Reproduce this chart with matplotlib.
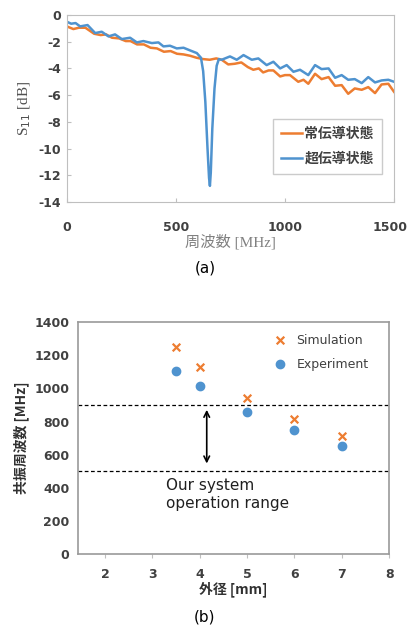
import matplotlib
matplotlib.use('Agg')
from matplotlib import pyplot as plt
from matplotlib.transforms import ScaledTranslation

plt.rcParams['font.family'] = ['DejaVu Sans', 'Noto Sans CJK JP']
plt.rcParams['axes.unicode_minus'] = False

# (a) S11 vs frequency
freq_normal = [0, 30, 55, 85, 125, 155, 180, 207, 240, 270, 292, 322, 353, 384, 413, 445,
               476, 505, 535, 565, 595, 625, 655, 685, 710, 740, 770, 800, 830, 855, 880,
               900, 925, 947, 978, 1000, 1023, 1061, 1085, 1107, 1138, 1168, 1200, 1230,
               1260, 1290, 1320, 1352, 1382, 1413, 1443, 1474, 1500]
s11_normal = [-0.85, -1.05, -0.95, -0.95, -1.4, -1.5, -1.45, -1.7, -1.75, -1.95, -1.95, -2.2,
              -2.2, -2.45, -2.5, -2.75, -2.7, -2.9, -2.95, -3.05, -3.2, -3.3, -3.35, -3.25,
              -3.35, -3.7, -3.65, -3.55, -3.9, -4.1, -4.0, -4.3, -4.15, -4.15, -4.6, -4.5,
              -4.5, -5.0, -4.85, -5.15, -4.4, -4.8, -4.65, -5.3, -5.25, -5.9, -5.5, -5.6,
              -5.4, -5.85, -5.2, -5.15, -5.75]
freq_super = [0, 20, 40, 61, 95, 130, 160, 191, 221, 252, 290, 321, 351, 390, 420, 443, 473,
              504, 535, 565, 596, 615, 625, 635, 645, 652, 656, 660, 667, 677, 687, 697, 710,
              748, 779, 810, 848, 878, 916, 947, 978, 1008, 1039, 1069, 1107, 1138, 1168,
              1200, 1230, 1260, 1290, 1320, 1352, 1382, 1413, 1443, 1474, 1500]
s11_super = [-0.5, -0.65, -0.6, -0.85, -0.75, -1.35, -1.25, -1.6, -1.45, -1.8, -1.7, -2.05,
             -1.95, -2.1, -2.05, -2.35, -2.3, -2.5, -2.45, -2.65, -2.85, -3.2, -4.2, -6.5,
             -10.0, -12.2, -12.8, -11.8, -8.5, -5.5, -3.8, -3.3, -3.35, -3.1, -3.35, -3.0,
             -3.35, -3.25, -3.75, -3.5, -4.0, -3.75, -4.25, -4.1, -4.5, -3.75, -4.05, -4.0,
             -4.7, -4.5, -4.85, -4.8, -5.1, -4.65, -5.05, -4.9, -4.85, -5.0]

# (b) resonance frequency vs outer diameter
diam = [3.5, 4, 5, 6, 7]
f_sim = [1248, 1132, 943, 813, 710]
f_exp = [1108, 1014, 858, 750, 654]
range_lo, range_hi = 500, 900

orange = '#ED7D31'
blue = '#4F93CF'
grid_gray = '#BFBFBF'
tick_col = '#404040'

fig = plt.figure(figsize=(4.1, 6.27), dpi=100)

ax1 = fig.add_axes([0.163, 0.678, 0.798, 0.298])
ax1.plot(freq_normal, s11_normal, color=orange, lw=1.8, label='常伝導状態')
ax1.plot(freq_super, s11_super, color=blue, lw=1.8, label='超伝導状態')
ax1.set_xlim(0, 1500)
ax1.set_ylim(-14, 0)
ax1.set_xticks([0, 500, 1000, 1500])
ax1.set_yticks(range(-14, 1, 2))
for s in ax1.spines.values():
    s.set_color(grid_gray)
ax1.tick_params(axis='x', direction='in', length=3, color=grid_gray, pad=14,
                labelsize=9, labelcolor=tick_col)
ax1.tick_params(axis='y', direction='in', length=3, color=grid_gray, pad=4,
                labelsize=9, labelcolor=tick_col)
for lab in ax1.get_xticklabels() + ax1.get_yticklabels():
    lab.set_fontweight('bold')
# the last x label sits right at the figure edge, nudge it inside
last = ax1.get_xticklabels()[-1]
last.set_transform(last.get_transform() + ScaledTranslation(-4 / 100, 0, fig.dpi_scale_trans))
ax1.set_ylabel('S$_{11}$ [dB]', family=['Liberation Serif', 'Noto Sans CJK JP'],
               fontsize=11, color='#505050', labelpad=4)
ax1.set_xlabel('周波数 [MHz]', family=['Liberation Serif', 'Noto Sans CJK JP'],
               fontsize=11, color='#808080', labelpad=0)
leg = ax1.legend(loc='lower right', bbox_to_anchor=(0.985, 0.11),
                 frameon=True, fancybox=False, handlelength=1.5, handletextpad=0.2,
                 borderpad=0.6, labelspacing=0.8,
                 prop={'family': ['Noto Sans CJK JP'], 'weight': 'bold', 'size': 10})
leg.get_frame().set_edgecolor(grid_gray)
for t in leg.get_texts():
    t.set_color(tick_col)
fig.text(0.5, 0.572, '(a)', ha='center', va='center', fontsize=11)

ax2 = fig.add_axes([0.190, 0.1164, 0.759, 0.3696])
ax2.scatter(diam, f_sim, marker='x', color=orange, s=30, lw=1.6, label='Simulation')
ax2.scatter(diam, f_exp, marker='o', color=blue, s=36, label='Experiment')
ax2.axhline(range_hi, color='black', ls=(0, (3, 2)), lw=0.9)
ax2.axhline(range_lo, color='black', ls=(0, (3, 2)), lw=0.9)
ax2.annotate('', xy=(4.15, range_hi - 12), xytext=(4.15, range_lo + 30),
             arrowprops=dict(arrowstyle='<->', color='black', lw=1.2,
                             mutation_scale=10))
ax2.text(3.28, 460, 'Our system\noperation range', fontsize=11, va='top',
         ha='left', linespacing=1.3, color='#202020')
ax2.set_xlim(1.43, 8)
ax2.set_ylim(0, 1400)
ax2.set_xticks(range(2, 9))
ax2.set_yticks(range(0, 1401, 200))
for s in ax2.spines.values():
    s.set_color('#9A9A9A')
    s.set_linewidth(1.2)
ax2.tick_params(axis='x', direction='out', length=3, color=grid_gray, pad=7,
                labelsize=9, labelcolor=tick_col)
ax2.tick_params(axis='y', length=0, pad=6, labelsize=9, labelcolor=tick_col)
for lab in ax2.get_xticklabels() + ax2.get_yticklabels():
    lab.set_fontweight('bold')
ax2.set_ylabel('共振周波数 [MHz]', fontsize=10, fontweight='bold', color='#303030',
               family=['Noto Sans CJK JP'], labelpad=4)
ax2.set_xlabel('外径 [mm]', fontsize=10, fontweight='bold', color='#303030',
               family=['Noto Sans CJK JP'], labelpad=0)
leg2 = ax2.legend(loc='upper right', bbox_to_anchor=(0.97, 1.0), frameon=False,
                  fontsize=9, handletextpad=0.3, labelspacing=0.9, borderpad=0.4)
for t in leg2.get_texts():
    t.set_color(tick_col)
fig.text(0.5, 0.016, '(b)', ha='center', va='center', fontsize=11)

fig.savefig('out.png', dpi=100)
